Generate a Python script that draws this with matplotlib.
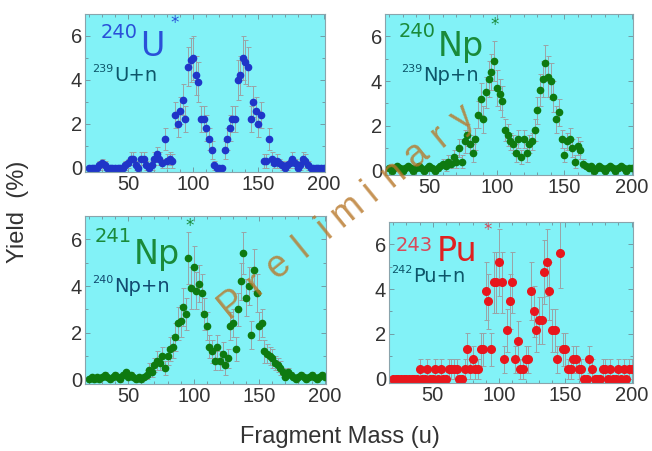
import numpy as np
import matplotlib.pyplot as plt
from matplotlib.ticker import MultipleLocator

# fragment mass bins (u)
mass = np.arange(20, 201, 2)

# 240U* (239U+n)
u240_yield = [0, 0, 0, 0, 0.1, 0.2, 0.1, 0, 0, 0,
              0, 0, 0, 0, 0.1, 0.2, 0.4, 0.4, 0.1, 0,
              0.4, 0.4, 0.1, 0, 0.1, 0.4, 0.6, 0.4, 0.2, 1.3,
              0.3, 0.4, 0.3, 2.4, 2.0, 2.6, 3.1, 2.2, 4.6, 4.9,
              5.0, 4.2, 3.9, 2.2, 2.2, 1.8, 1.3, 0.8, 0.1, 0.0,
              0.0, 0.0, 0.8, 1.3, 1.8, 2.2, 2.2, 4.0, 4.2, 5.0,
              4.8, 4.6, 2.2, 3.0, 2.6, 2.0, 2.4, 0.3, 0.3, 1.3,
              0.4, 0.2, 0.3, 0.2, 0.1, 0.0, 0.1, 0.2, 0.4, 0.2,
              0.0, 0.1, 0.4, 0.3, 0.1, 0.0, 0.0, 0.0, 0.0, 0.0, 0.0]
u240_err = [0, 0, 0, 0, 0.2, 0.2, 0.2, 0, 0, 0,
            0, 0, 0, 0, 0.2, 0.2, 0.3, 0.3, 0.2, 0,
            0.3, 0.3, 0.2, 0, 0.2, 0.3, 0.35, 0.3, 0.2, 0.5,
            0.3, 0.3, 0.3, 0.6, 0.6, 0.6, 0.7, 0.6, 0.9, 1.0,
            1.0, 0.9, 0.9, 0.6, 0.6, 0.6, 0.5, 0.4, 0.2, 0,
            0, 0, 0.4, 0.5, 0.6, 0.6, 0.6, 0.9, 0.9, 1.0,
            1.0, 0.9, 0.6, 0.7, 0.6, 0.6, 0.6, 0.3, 0.3, 0.5,
            0.3, 0.2, 0.3, 0.2, 0.2, 0, 0.2, 0.2, 0.3, 0.2,
            0, 0.2, 0.3, 0.3, 0.2, 0, 0, 0, 0, 0, 0]

# 240Np* (239Np+n)
np240_yield = [0.1, 0.0, 0.1, 0.2, 0.1, 0.0, 0.1, 0.2, 0.1, 0.0,
               0.1, 0.2, 0.1, 0.0, 0.1, 0.2, 0.1, 0.0, 0.1, 0.2,
               0.3, 0.2, 0.4, 0.3, 0.6, 0.4, 1.0, 0.4, 1.3, 1.6,
               1.2, 0.8, 1.4, 2.5, 3.2, 2.3, 3.5, 4.1, 4.4, 4.9,
               3.7, 3.4, 3.1, 1.8, 1.6, 1.3, 1.2, 0.8, 1.4, 0.6,
               1.4, 0.8, 1.2, 1.3, 1.8, 2.7, 3.6, 4.1, 4.8, 4.2,
               4.0, 3.3, 2.3, 2.6, 1.4, 0.7, 1.3, 1.4, 1.0, 0.4,
               1.1, 0.9, 0.3, 0.2, 0.1, 0.2, 0.0, 0.1, 0.2, 0.1,
               0.0, 0.1, 0.2, 0.1, 0.0, 0.1, 0.2, 0.1, 0.0, 0.1, 0.1]
np240_err = [0.1] * 20 + \
            [0.2, 0.2, 0.3, 0.2, 0.3, 0.3, 0.4, 0.3, 0.5, 0.5,
             0.4, 0.4, 0.5, 0.6, 0.7, 0.6, 0.7, 0.8, 0.8, 0.9,
             0.8, 0.7, 0.7, 0.5, 0.5, 0.4, 0.4, 0.4, 0.4, 0.3,
             0.4, 0.4, 0.4, 0.4, 0.5, 0.6, 0.7, 0.8, 0.8, 0.9,
             0.8, 0.7, 0.6, 0.6, 0.4, 0.3, 0.4, 0.5, 0.4, 0.3,
             0.4, 0.4, 0.2, 0.1, 0.1, 0.1, 0.1, 0.1, 0.1, 0.1] + [0.1] * 11

# 241Np* (240Np+n)
np241_yield = [0.0, 0.1, 0.0, 0.1, 0.0, 0.1, 0.2, 0.1, 0.0, 0.1,
               0.2, 0.1, 0.0, 0.2, 0.3, 0.1, 0.2, 0.1, 0.0, 0.1,
               0.0, 0.1, 0.2, 0.4, 0.3, 0.6, 0.8, 0.7, 1.0, 0.5,
               1.0, 1.3, 1.4, 1.8, 2.4, 2.5, 3.1, 2.8, 5.2, 3.9,
               4.8, 3.8, 4.1, 3.7, 2.8, 2.3, 1.4, 1.2, 0.8, 1.4,
               0.8, 1.1, 0.6, 0.9, 2.3, 2.4, 1.3, 3.0, 4.2, 5.4,
               3.5, 4.0, 1.9, 4.7, 3.7, 2.3, 2.4, 1.2, 1.1, 1.0,
               0.9, 0.7, 0.6, 0.5, 0.3, 0.1, 0.3, 0.2, 0.1, 0.0,
               0.1, 0.2, 0.1, 0.0, 0.1, 0.2, 0.1, 0.0, 0.1, 0.2, 0.1]
np241_err = [0.1] * 20 + \
            [0.1, 0.1, 0.2, 0.3, 0.2, 0.3, 0.4, 0.3, 0.4, 0.3,
             0.4, 0.5, 0.5, 0.6, 0.7, 0.7, 0.8, 0.7, 1.1, 0.9,
             0.9, 0.8, 0.8, 0.8, 0.7, 0.6, 0.5, 0.5, 0.4, 0.5,
             0.4, 0.5, 0.4, 0.4, 0.6, 0.6, 0.5, 0.7, 0.8, 0.9,
             0.8, 0.8, 0.6, 0.9, 0.8, 0.6, 0.6, 0.5, 0.4, 0.4,
             0.4, 0.3, 0.3, 0.3, 0.2, 0.1, 0.2, 0.1, 0.1, 0.1] + [0.1] * 11

# 243Pu* (242Pu+n)
pu243_yield = [0, 0, 0, 0, 0, 0, 0, 0, 0, 0,
               0.43, 0, 0, 0.43, 0, 0, 0.43, 0, 0.43, 0,
               0, 0.43, 0.43, 0.43, 0.43, 0, 0, 0.43, 1.3, 0.43,
               0.86, 0.43, 0.43, 1.3, 1.3, 3.9, 3.45, 1.3, 4.3, 4.3,
               5.2, 4.3, 0.86, 2.15, 3.45, 4.3, 0.86, 1.7, 0.43, 0.43,
               0.86, 0.86, 3.9, 3.0, 2.15, 2.6, 2.6, 4.75, 5.2, 3.9,
               2.15, 2.15, 0.86, 5.6, 1.3, 1.3, 0.43, 0.43, 0.86, 0.86,
               0.43, 0.43, 0, 0, 0.86, 0.43, 0, 0, 0, 0.43,
               0.43, 0, 0.43, 0, 0, 0.43, 0, 0.43, 0, 0.43, 0.43]
pu243_err = [0, 0, 0, 0, 0, 0, 0, 0, 0, 0,
             0.43, 0, 0, 0.43, 0, 0, 0.43, 0, 0.43, 0,
             0, 0.43, 0.43, 0.43, 0.43, 0, 0, 0.43, 0.75, 0.43,
             0.61, 0.43, 0.43, 0.75, 0.75, 1.3, 1.22, 0.75, 1.36, 1.36,
             1.5, 1.36, 0.61, 0.96, 1.22, 1.36, 0.61, 0.86, 0.43, 0.43,
             0.61, 0.61, 1.3, 1.14, 0.96, 1.06, 1.06, 1.43, 1.5, 1.3,
             0.96, 0.96, 0.61, 1.55, 0.75, 0.75, 0.43, 0.43, 0.61, 0.61,
             0.43, 0.43, 0, 0, 0.61, 0.43, 0, 0, 0, 0.43,
             0.43, 0, 0.43, 0, 0, 0.43, 0, 0.43, 0, 0.43, 0.43]

W, H = 652, 451
fig = plt.figure(figsize=(W / 100, H / 100), dpi=100)
fig.patch.set_facecolor('white')


def px_rect(left, top, right, bottom):
    return [left / W, 1 - bottom / H, (right - left) / W, (bottom - top) / H]


def fig_text(x, y, s, **kw):
    return fig.text(x / W, 1 - y / H, s, **kw)


panels = [
    (px_rect(85, 14, 325, 172), u240_yield, u240_err, '#1f35c8', 4.5),
    (px_rect(385, 14, 633, 175), np240_yield, np240_err, '#0e7a10', 4.5),
    (px_rect(85, 216, 326, 384), np241_yield, np241_err, '#0e7a10', 4.5),
    (px_rect(389, 222, 633, 383), pu243_yield, pu243_err, '#e8161c', 5.5),
]

for rect, y, err, col, ms in panels:
    ax = fig.add_axes(rect)
    ax.set_facecolor('#82f2f7')
    ax.errorbar(mass, y, yerr=err, fmt='o', ms=ms, color=col, mec=col,
                ecolor='#9aa3a6', elinewidth=0.7, capsize=1.8, capthick=0.7)
    ax.set_xlim(17, 201)
    ax.set_ylim(-0.2, 7.0)
    ax.set_xticks([50, 100, 150, 200])
    ax.set_yticks([0, 2, 4, 6])
    ax.xaxis.set_minor_locator(MultipleLocator(10))
    ax.yaxis.set_minor_locator(MultipleLocator(1))
    ax.tick_params(which='both', direction='in', top=True, right=True,
                   color='#6f8f98', labelcolor='#333333', width=0.6)
    ax.tick_params(which='major', length=3.5, labelsize=14.5, pad=2)
    ax.tick_params(which='minor', length=2)
    for lab in ax.get_xticklabels() + ax.get_yticklabels():
        lab.set_fontfamily('Liberation Sans')
    for sp in ax.spines.values():
        sp.set_color('#8aa4ac')
        sp.set_linewidth(0.8)

# panel labels
fs_big, fs_num, fs_sub, fs_subnum = 24, 14, 14, 8
teal = '#0d566a'
fig_text(101, 38, '240', color='#2a50d8', fontsize=fs_num)
fig_text(140, 56, 'U', color='#2a50d8', fontsize=fs_big)
fig_text(175, 28, '*', color='#2a50d8', fontsize=12, ha='center')
fig_text(92, 72, '239', color=teal, fontsize=fs_subnum)
fig_text(114, 81, 'U+n', color=teal, fontsize=fs_sub)

fig_text(399, 37, '240', color='#1a8a3a', fontsize=fs_num)
fig_text(438, 56, 'Np', color='#1a8a3a', fontsize=fs_big)
fig_text(495, 30, '*', color='#1a8a3a', fontsize=12, ha='center')
fig_text(401, 72, '239', color=teal, fontsize=fs_subnum)
fig_text(423, 81, 'Np+n', color=teal, fontsize=fs_sub)

fig_text(95, 242, '241', color='#1a8a3a', fontsize=fs_num)
fig_text(134, 264, 'Np', color='#1a8a3a', fontsize=fs_big)
fig_text(190, 231, '*', color='#1a8a3a', fontsize=12, ha='center')
fig_text(92, 283, '240', color='#124a70', fontsize=fs_subnum)
fig_text(114, 292, 'Np+n', color='#124a70', fontsize=fs_sub)

fig_text(396, 251, '243', color='#d84a5a', fontsize=fs_num)
fig_text(437, 261, 'Pu', color='#e02020', fontsize=fs_big)
fig_text(488, 235, '*', color='#d84a5a', fontsize=12, ha='center')
fig_text(391, 273, '242', color=teal, fontsize=fs_subnum)
fig_text(413, 282, 'Pu+n', color=teal, fontsize=fs_sub)

# axis titles
fig_text(18, 212, 'Yield  (%)', rotation=90, fontsize=17, color='#333333',
         ha='center', va='center', family='Liberation Sans')
fig_text(340, 437, 'Fragment Mass (u)', fontsize=17, color='#333333',
         ha='center', va='center', family='Liberation Sans')

# "Preliminary" watermark
word = 'Preliminary'
x0, y0, x1, y1 = 230, 300, 460, 115
for i, ch in enumerate(word):
    t = i / (len(word) - 1)
    fig_text(x0 + t * (x1 - x0), y0 + t * (y1 - y0), ch, rotation=39,
             rotation_mode='anchor', ha='center', va='center_baseline',
             fontsize=27, color='#b8782a', alpha=0.8, zorder=10,
             family='Liberation Sans')

fig.savefig('out.png', dpi=100)
